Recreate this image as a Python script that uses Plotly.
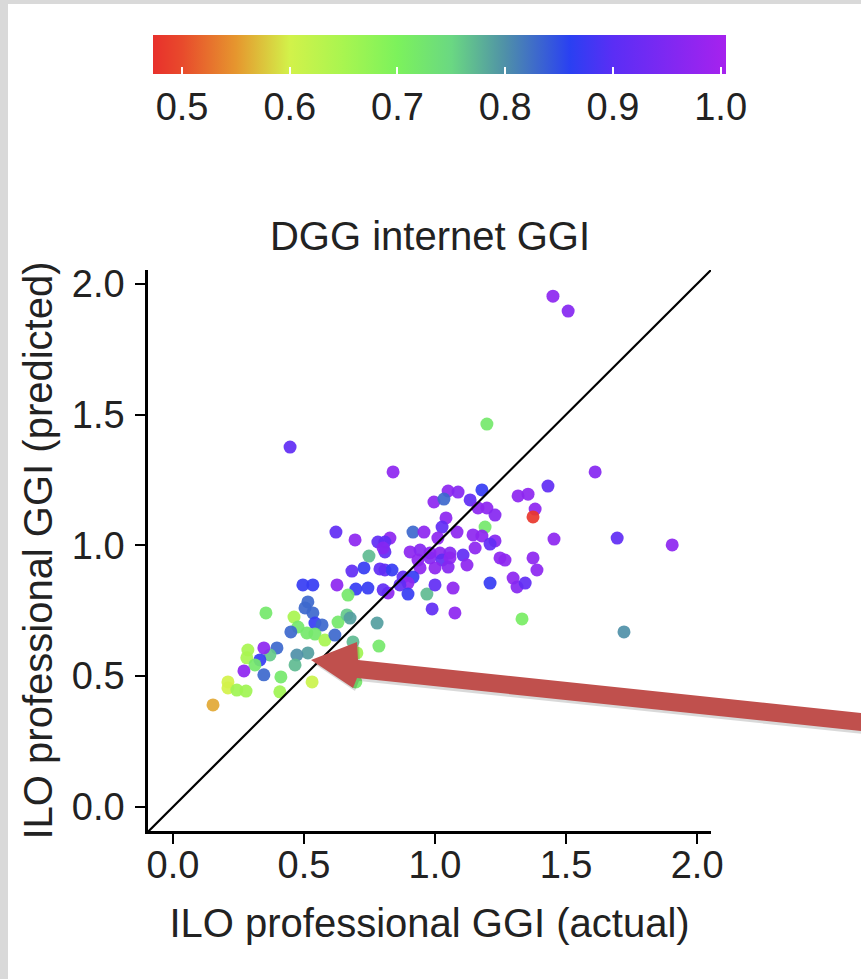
import plotly.graph_objects as go

# ---- data ----
actual = [1.450, 1.508, 0.447, 1.198, 0.840, 1.611, 1.431, 0.996, 0.622, 0.695,
          0.782, 0.828, 0.916, 0.958, 0.809, 0.748, 1.050, 1.088, 1.179, 1.034,
          1.134, 1.164, 1.198, 1.229, 1.317, 1.355, 1.382, 1.374, 1.042, 1.027,
          1.084, 1.145, 1.191, 1.179, 1.229, 1.210, 1.153, 1.454, 1.695, 1.905,
          1.248, 1.374, 1.107, 0.905, 0.943, 0.981, 1.019, 1.057, 1.011, 1.122,
          1.267, 1.298, 1.313, 1.344, 1.210, 1.069, 0.969, 1.000, 0.935, 0.981,
          1.027, 1.057, 0.943, 1.000, 1.050, 0.809, 0.809, 0.836, 0.878, 0.916,
          0.897, 0.866, 0.897, 0.821, 1.389, 0.802, 0.683, 0.729, 0.790, 0.496,
          0.534, 0.626, 0.698, 0.744, 0.802, 0.668, 0.989, 1.076, 1.332, 1.721,
          0.779, 0.786, 0.531, 0.698, 0.687, 0.702, 0.355, 0.515, 0.504, 0.534,
          0.542, 0.569, 0.462, 0.477, 0.450, 0.511, 0.542, 0.580, 0.618, 0.630,
          0.664, 0.676, 0.515, 0.473, 0.466, 0.397, 0.370, 0.347, 0.332, 0.286,
          0.282, 0.313, 0.271, 0.347, 0.412, 0.408, 0.210, 0.210, 0.244, 0.279,
          0.153]
predicted = [1.953, 1.896, 1.376, 1.464, 1.281, 1.281, 1.227, 1.166, 1.051, 1.021,
             1.013, 1.028, 1.051, 1.051, 0.975, 0.959, 1.208, 1.204, 1.212, 1.177,
             1.174, 1.143, 1.143, 1.116, 1.189, 1.196, 1.139, 1.109, 1.105, 1.070,
             1.051, 1.040, 1.070, 1.036, 1.017, 1.005, 0.990, 1.024, 1.028, 1.002,
             0.952, 0.952, 0.963, 0.975, 0.982, 0.971, 0.971, 0.971, 1.028, 0.925,
             0.944, 0.875, 0.841, 0.856, 0.856, 0.837, 0.814, 0.849, 0.944, 0.952,
             0.944, 0.952, 0.914, 0.914, 0.917, 1.013, 0.906, 0.906, 0.879, 0.879,
             0.856, 0.849, 0.814, 0.818, 0.906, 0.990, 0.902, 0.914, 0.910, 0.849,
             0.849, 0.849, 0.833, 0.837, 0.830, 0.810, 0.757, 0.742, 0.719, 0.669,
             0.703, 0.615, 0.478, 0.478, 0.631, 0.589, 0.742, 0.784, 0.761, 0.742,
             0.703, 0.696, 0.726, 0.688, 0.669, 0.665, 0.661, 0.638, 0.657, 0.707,
             0.734, 0.722, 0.589, 0.581, 0.543, 0.608, 0.581, 0.608, 0.562, 0.600,
             0.570, 0.543, 0.520, 0.505, 0.497, 0.440, 0.478, 0.455, 0.447, 0.443,
             0.390]
ggi_value = [0.97, 0.96, 0.91, 0.72, 0.97, 0.96, 0.91, 0.97, 0.91, 0.97,
             0.91, 0.97, 0.83, 0.97, 0.91, 0.77, 0.97, 0.96, 0.87, 0.83,
             0.91, 0.97, 0.97, 0.96, 0.97, 0.97, 0.97, 0.48, 0.97, 0.91,
             0.97, 0.97, 0.72, 0.97, 0.96, 0.91, 0.97, 0.97, 0.91, 0.97,
             0.97, 0.97, 0.91, 0.97, 0.96, 0.97, 0.97, 0.96, 0.97, 0.97,
             0.97, 0.97, 0.96, 0.91, 0.87, 0.97, 0.77, 0.91, 0.97, 0.96,
             0.91, 0.97, 0.97, 0.97, 0.96, 0.91, 0.91, 0.87, 0.91, 0.87,
             0.97, 0.91, 0.87, 0.97, 0.97, 0.96, 0.91, 0.87, 0.91, 0.87,
             0.87, 0.97, 0.87, 0.87, 0.91, 0.72, 0.91, 0.97, 0.71, 0.80,
             0.79, 0.72, 0.61, 0.72, 0.77, 0.66, 0.72, 0.83, 0.83, 0.83,
             0.87, 0.83, 0.65, 0.72, 0.83, 0.72, 0.72, 0.65, 0.83, 0.72,
             0.76, 0.79, 0.79, 0.80, 0.77, 0.83, 0.76, 0.97, 0.87, 0.65,
             0.65, 0.72, 0.97, 0.83, 0.72, 0.66, 0.60, 0.60, 0.66, 0.66,
             0.56]
x_ticks = [0.0, 0.5, 1.0, 1.5, 2.0]
y_ticks = [0.0, 0.5, 1.0, 1.5, 2.0]
cbar_ticks = [0.5, 0.6, 0.7, 0.8, 0.9, 1.0]
diag = [-0.2, 2.2]

# ---- layout geometry (pixels) ----
W, H = 861, 979
L, R, T, B = 148, 150, 270, 148
PW, PH = W - L - R, H - T - B


def px(x):
    return (x - L) / PW


def py(y):
    return (H - B - y) / PH


CMIN, CMAX = 0.473, 1.005


def pos(v):
    return (v - CMIN) / (CMAX - CMIN)


colorscale = [
    [0.0, "#e8302c"],
    [pos(0.50), "#e84a2c"],
    [pos(0.55), "#e6962e"],
    [pos(0.60), "#d2f24a"],
    [pos(0.65), "#a8f550"],
    [pos(0.70), "#7cf25c"],
    [pos(0.75), "#6ad882"],
    [pos(0.80), "#4f90a8"],
    [pos(0.86), "#2a40f2"],
    [pos(0.90), "#5a2ef5"],
    [1.0, "#a622ee"],
]

FONT = "Liberation Sans, Arial, Helvetica, sans-serif"
TXT = "#222222"

fig = go.Figure()
fig.add_trace(go.Scatter(
    x=actual, y=predicted, mode="markers",
    marker=dict(
        size=13, color=ggi_value, colorscale=colorscale, cmin=CMIN, cmax=CMAX,
        opacity=0.92, line=dict(width=0),
        showscale=True,
        colorbar=dict(
            orientation="h", xanchor="center", x=px(439.5),
            yanchor="top", y=py(35), ypad=0, xpad=0,
            lenmode="pixels", len=573, thickness=39,
            outlinewidth=0,
            tickvals=cbar_ticks, ticktext=[f"{v:.1f}" for v in cbar_ticks],
            ticks="inside", ticklen=7, tickcolor="white", tickwidth=1.5,
            tickfont=dict(family=FONT, size=38, color=TXT),
        ),
    ),
    showlegend=False, hoverinfo="x+y",
))
fig.add_trace(go.Scatter(
    x=diag, y=diag, mode="lines",
    line=dict(color="black", width=2.2), showlegend=False, hoverinfo="skip",
))

axis_common = dict(
    showline=True, linecolor="black", linewidth=2.5,
    ticks="outside", ticklen=10, tickwidth=2, tickcolor="black",
    showgrid=False, zeroline=False, mirror=False,
    tickfont=dict(family=FONT, size=38, color=TXT),
)

# arrow polygon (pixels)
arrow_pts = [(311, 660), (357, 642), (358, 660), (880, 715), (880, 733),
             (357, 678), (353, 688)]


def path(pts, dx=0, dy=0):
    s = "M " + " L ".join(f"{px(a + dx)},{py(b + dy)}" for a, b in pts)
    return s + " Z"


fig.update_layout(
    width=W, height=H,
    margin=dict(l=L, r=R, t=T, b=B, pad=0),
    paper_bgcolor="white", plot_bgcolor="white",
    font=dict(family=FONT, color=TXT),
    title=dict(text="DGG internet GGI", x=px(430), xanchor="center",
               y=1 - 236 / H, yanchor="middle", xref="paper",
               font=dict(family=FONT, size=40, color=TXT)),
    xaxis=dict(range=[-0.095, 2.053], tickvals=x_ticks,
               ticktext=[f"{v:.1f}" for v in x_ticks],
               ticklabelstandoff=-11,
               title=dict(text="ILO professional GGI (actual)", standoff=24,
                          font=dict(family=FONT, size=40, color=TXT)),
               **axis_common),
    yaxis=dict(range=[-0.092, 2.053], tickvals=y_ticks,
               ticktext=[f"{v:.1f}" for v in y_ticks],
               ticklabelstandoff=3,
               title=dict(text="ILO professional GGI (predicted)", standoff=7,
                          font=dict(family=FONT, size=40, color=TXT)),
               **axis_common),
    shapes=[
        dict(type="rect", xref="paper", yref="paper", x0=px(-5), x1=px(8),
             y0=py(H + 5), y1=py(-5), fillcolor="#d9d9d9", line=dict(width=0),
             layer="above"),
        dict(type="rect", xref="paper", yref="paper", x0=px(-5), x1=px(W + 5),
             y0=py(4), y1=py(-5), fillcolor="#d9d9d9", line=dict(width=0),
             layer="above"),
        dict(type="path", xref="paper", yref="paper", path=path(arrow_pts, 2, 3),
             fillcolor="rgba(0,0,0,0.15)", line=dict(width=0), layer="above"),
        dict(type="path", xref="paper", yref="paper", path=path(arrow_pts),
             fillcolor="#c0504d", line=dict(width=0), layer="above"),
    ],
)

fig.write_html("out.html")
